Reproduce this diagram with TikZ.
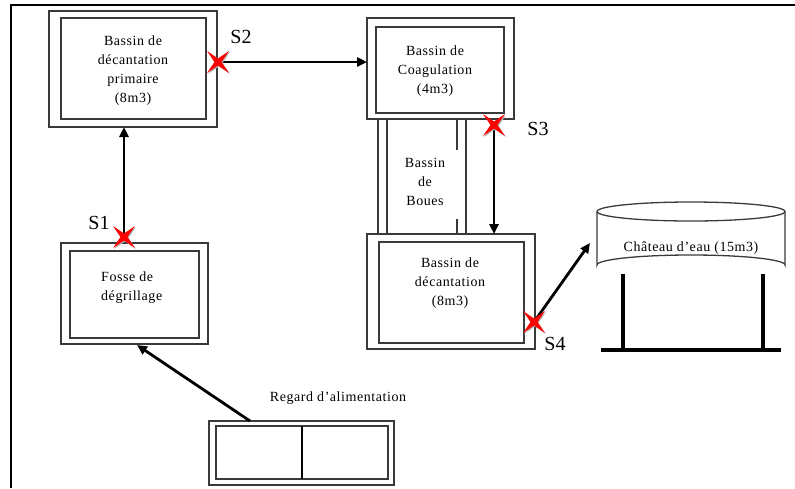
\documentclass[tikz,border=0pt]{standalone}
\usepackage{fontspec}
\setmainfont{Liberation Serif}[LetterSpace=4]
\usetikzlibrary{arrows.meta}
\definecolor{boxgray}{HTML}{3A3A3A}
\begin{document}
\begin{tikzpicture}[x=1pt,y=-1pt,
  frame/.style={draw=black, line width=1.1pt},
  box/.style={draw=boxgray, line width=1.3pt, inner sep=0pt, outer sep=0pt},
  lbl/.style={font=\fontsize{14}{19}\selectfont, align=center, inner sep=0pt},
  slbl/.style={font=\fontsize{20}{22}\selectfont\addfontfeatures{LetterSpace=0}, inner sep=0pt},
  arr/.style={-{Triangle[length=10pt,width=9pt]}, line width=2.8pt, black},
  thick line/.style={line width=3.2pt, black},
  redx/.pic={
    \fill[gray!60] (-10,-10) -- (1,-2.5) -- (12,-10) -- (4.5,1) -- (12,12) -- (1,4.5) -- (-10,12) -- (-2.5,1) -- cycle;
    \fill[red] (-11,-11) -- (0,-3.5) -- (11,-11) -- (3.5,0) -- (11,11) -- (0,3.5) -- (-11,11) -- (-3.5,0) -- cycle;
  }]
\useasboundingbox (0,0) rectangle (795,488);
% outer frame (partly visible)
\draw[frame] (11,488) -- (11,5) -- (795,5);

% Bassin de decantation primaire
\node[box, minimum width=168pt, minimum height=116pt] (p1o) at (133,69) {};
\node[box, minimum width=145pt, minimum height=101pt] (p1i) at (133.5,68.5) {};
\node[lbl] (p1t) at (133,71) {Bassin de\\décantation\\primaire\\(8m3)};

% Bassin de Coagulation
\node[box, minimum width=147pt, minimum height=101pt] (coo) at (440.5,68.5) {};
\node[box, minimum width=128pt, minimum height=86pt] (coi) at (440,70) {};
\node[lbl] (cot) at (435,71) {Bassin de\\Coagulation\\(4m3)};

% Bassin de decantation
\node[box, minimum width=168pt, minimum height=115pt] (deo) at (451,291.5) {};
\node[box, minimum width=145pt, minimum height=101pt] (dei) at (451.5,292.5) {};
\node[lbl] (det) at (450,283) {Bassin de\\décantation\\(8m3)};

% Bassin de Boues
\draw[boxgray, line width=1.3pt] (378,119) -- (378,234) (387,119) -- (387,234)
  (466,119) -- (466,234) (457,119) -- (457,150) (457,219) -- (457,234);
\node[lbl] (bot) at (425,182) {Bassin\\de\\Boues};

% Fosse de degrillage
\node[box, minimum width=147pt, minimum height=101pt] (fo) at (134.5,293.5) {};
\node[box, minimum width=129pt, minimum height=87pt] (fi) at (134.5,294.5) {};
\node[lbl, anchor=west, align=left] (ft) at (101,288) {Fosse de\\dégrillage};

% Regard d'alimentation
\node[box, minimum width=185pt, minimum height=64pt] (ro) at (301.5,453) {};
\node[box, minimum width=172pt, minimum height=53pt] (ri) at (302,452.5) {};
\draw[black, line width=1.2pt] (ri.north) -- (ri.south);
\node[lbl] (rt) at (338,398) {Regard d’alimentation};

% Chateau d'eau
\draw[boxgray, line width=1.3pt] (691,211.5) ellipse [x radius=94, y radius=9.5];
\draw[boxgray, line width=1.3pt] (597,211.5) -- (597,265) arc[start angle=180, end angle=360, x radius=94, y radius=10] -- (785,211.5);
\node[lbl] (cht) at (691,248) {Château d’eau (15m3)};
\coordinate (leg1) at (623,274);
\coordinate (leg2) at (763,274);
\coordinate (base1) at (601,350);
\coordinate (base2) at (781,350);
\draw[thick line] (leg1) -- (leg1 |- base1);
\draw[thick line] (leg2) -- (leg2 |- base1);
\draw[thick line] (base1) -- (base2);

% sampling points
\coordinate (s1) at (124,237);
\coordinate (s2) at (218,62);
\coordinate (s3) at (494,125);
\coordinate (s4) at (534,322);
\coordinate (chin) at (590,243);
\coordinate (fin) at (137,345);
\coordinate (rout) at (250,421);

% connectors
\draw[arr] (s1) -- (s1 |- p1o.south);
\draw[arr] (s2) -- (s2 -| coo.west);
\draw[arr] (s3) -- (s3 |- deo.north);
\draw[arr] (s4) -- (chin);
\draw[arr] (rout) -- (fin);

% markers
\pic at (s1) {redx};
\pic at (s2) {redx};
\pic at (s3) {redx};
\pic at (s4) {redx};

\node[slbl] (l1) at (99,223) {S1};
\node[slbl] (l2) at (241,37) {S2};
\node[slbl] (l3) at (538,129) {S3};
\node[slbl] (l4) at (555,344) {S4};
\end{tikzpicture}
\end{document}
